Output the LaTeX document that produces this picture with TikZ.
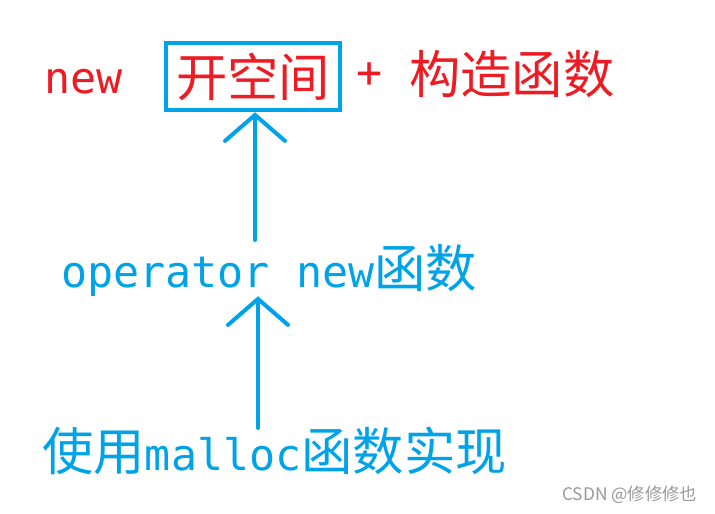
\documentclass[tikz,border=0pt]{standalone}
\usepackage{fontspec}
\usepackage{tikz}
\usetikzlibrary{arrows.meta}
\newfontfamily\cjkfont{Noto Sans CJK SC}
\newfontfamily\ttmono{DejaVu Sans Mono}
\newcommand{\cjktext}{\cjkfont\fontsize{38.5pt}{40pt}\selectfont}
\newcommand{\monotext}{\ttmono\fontsize{32.5pt}{36pt}\selectfont}
\definecolor{paintred}{RGB}{237, 28, 36}
\definecolor{paintblue}{RGB}{0, 162, 232}

\begin{document}
\begin{tikzpicture}[x=0.75pt, y=-0.75pt,
    redtxt/.style={text=paintred, inner sep=0pt, anchor=base west},
    bluetxt/.style={text=paintblue, inner sep=0pt, anchor=base west},
    boxed/.style={draw=paintblue, line width=3.4pt, text=paintred, inner sep=0pt,
      minimum width=130.5pt, minimum height=50.25pt},
    uparrow/.style={draw=paintblue, line width=3pt, line cap=round,
      -{Straight Barb[length=19.5pt, width=45pt, line cap=round]}}]
  \useasboundingbox (0,0) rectangle (715,514);
  % top line: new = alloc + ctor
  \node[redtxt] (new) at (44,93) {\monotext new};
  \node[boxed] (kai) at (253,76.5) {\cjktext 开空间};
  \node[text=paintred, inner sep=0pt] (plus) at (370,75) {\monotext +};
  \node[redtxt] (ctor) at (409,93) {\cjktext 构造函数};
  % middle and bottom
  \node[bluetxt] (op) at (61,287) {\monotext operator new\cjktext 函数};
  \node[bluetxt] (src) at (42,470) {\cjktext 使用\monotext malloc\cjktext 函数实现};
  \coordinate (a1) at (255,240);
  \coordinate (a2) at (258,428);
  \draw[uparrow] (a1) -- (kai.south -| a1);
  \draw[uparrow] (a2) -- (op.south -| a2);
  % watermark
  \node[text=black!40, inner sep=0pt, anchor=west] (mark) at (562,495)
    {\cjkfont\fontsize{13pt}{15pt}\selectfont CSDN @修修修也};
\end{tikzpicture}
\end{document}
